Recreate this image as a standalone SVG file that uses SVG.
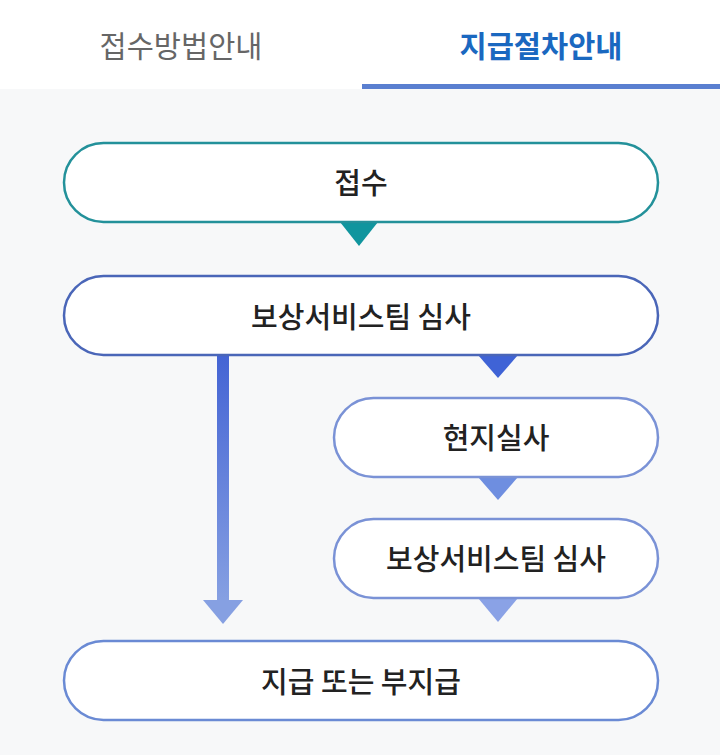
<svg xmlns="http://www.w3.org/2000/svg" width="720" height="755" viewBox="0 0 720 755">
<style>
text{font-family:"Noto Sans CJK KR","Noto Sans",sans-serif;text-anchor:middle;dominant-baseline:central}
.tab{font-size:29.5px}
.n{fill:#fff;stroke-width:2.5}
.lbl{font-size:29px;font-weight:500;fill:#222}
</style>
<defs>
<linearGradient id="g" x1="0" y1="0" x2="0" y2="1"><stop offset="0" stop-color="#4464d4"/><stop offset="1" stop-color="#86a0e2"/></linearGradient>
</defs>
<rect width="720" height="755" fill="#f7f8f9"/>
<rect width="720" height="89" fill="#fff"/>
<text class="tab" x="181" y="44" fill="#666">접수방법안내</text>
<text class="tab" x="541" y="44" fill="#1a68c0" font-weight="700">지급절차안내</text>
<rect x="362" y="84" width="358" height="5" fill="#5a7fd0"/>
<g id="connectors">
<polygon points="340,222 378,222 359,246" fill="#10959e"/>
<rect x="217" y="355" width="12" height="247" fill="url(#g)"/>
<polygon points="203,600 243,600 223,624" fill="#86a0e2"/>
<polygon points="478,355 518,355 498,378" fill="#3f63d6"/>
<polygon points="478,477 518,477 498,500" fill="#6e8ee0"/>
<polygon points="478,598 518,598 498,622" fill="#8aa2e6"/>
</g>
<g id="n1"><rect class="n" x="64" y="143" width="594" height="79" rx="39.5" stroke="#23919a"/><text class="lbl" x="361" y="181">접수</text></g>
<g id="n2"><rect class="n" x="64" y="276" width="594" height="79" rx="39.5" stroke="#4a66b8"/><text class="lbl" x="361" y="315">보상서비스팀 심사</text></g>
<g id="n3"><rect class="n" x="334" y="398" width="324" height="79" rx="39.5" stroke="#7a92d6"/><text class="lbl" x="496" y="436">현지실사</text></g>
<g id="n4"><rect class="n" x="334" y="519" width="324" height="79" rx="39.5" stroke="#7a92d6"/><text class="lbl" x="496" y="557">보상서비스팀 심사</text></g>
<g id="n5"><rect class="n" x="64" y="641" width="594" height="79" rx="39.5" stroke="#6a8ad4"/><text class="lbl" x="361" y="680">지급 또는 부지급</text></g>
</svg>
